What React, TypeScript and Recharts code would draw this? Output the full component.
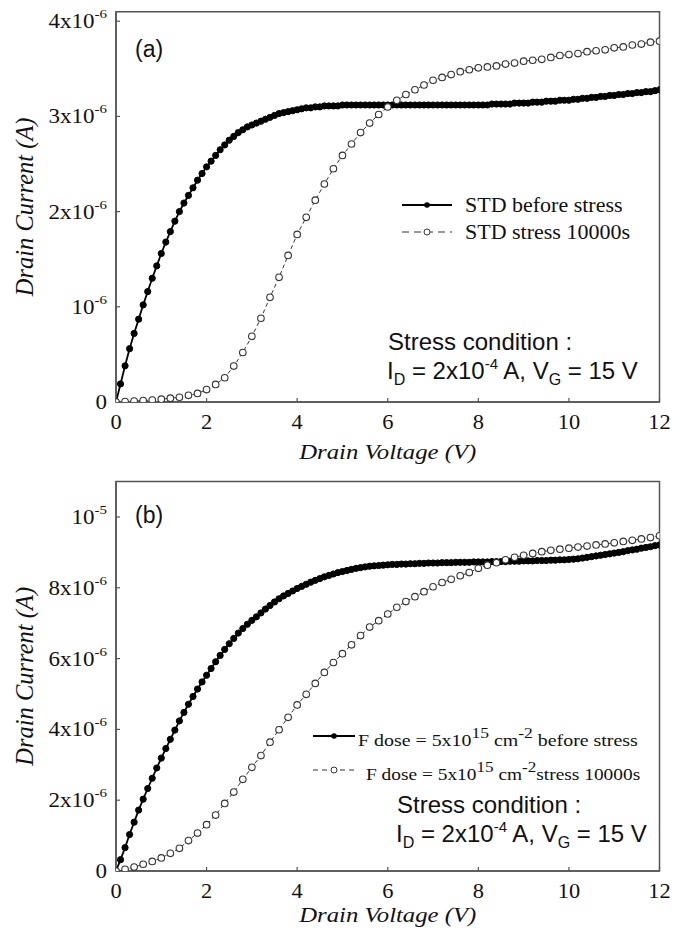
import React from 'react';
import { LineChart, Line, XAxis, YAxis, ReferenceArea, Legend } from 'recharts';

const SERIF = '"Liberation Serif", "Times New Roman", serif';
const SANS = '"Liberation Sans", Arial, sans-serif';

// drain voltage sweep (V): fine sweep for the unstressed curves, coarse for the stressed ones
const voltTicks = [0, 2, 4, 6, 8, 10, 12];
const fineStep = 0.1;
const coarseStep = 0.2;

// (a) STD device, drain current in units of 1e-6 A, 0..12 V step 0.1
const stdBefore = [
  0, 0.19, 0.38, 0.56, 0.72, 0.87, 1.02, 1.16, 1.3, 1.43, 1.56,
  1.68, 1.79, 1.9, 2.0, 2.09, 2.17, 2.25, 2.33, 2.4, 2.47,
  2.53, 2.59, 2.65, 2.7, 2.75, 2.79, 2.83, 2.86, 2.89, 2.91,
  2.93, 2.95, 2.97, 2.99, 3.01, 3.03, 3.04, 3.05, 3.06, 3.07,
  3.08, 3.09, 3.09, 3.1, 3.1, 3.11, 3.11, 3.11, 3.11, 3.12,
  3.12, 3.12, 3.12, 3.12, 3.12, 3.12, 3.12, 3.12, 3.12, 3.12,
  3.12, 3.12, 3.12, 3.12, 3.12, 3.12, 3.12, 3.12, 3.12, 3.12,
  3.12, 3.12, 3.12, 3.12, 3.12, 3.12, 3.12, 3.12, 3.12, 3.12,
  3.12, 3.12, 3.13, 3.13, 3.13, 3.13, 3.13, 3.14, 3.14, 3.14,
  3.14, 3.15, 3.15, 3.15, 3.16, 3.16, 3.16, 3.17, 3.17, 3.17,
  3.18, 3.18, 3.19, 3.19, 3.2, 3.2, 3.21, 3.21, 3.22, 3.22,
  3.23, 3.23, 3.24, 3.24, 3.25, 3.25, 3.26, 3.26, 3.27, 3.28,
];
// (a) STD after 10000 s stress, step 0.2 V
const stdStress = [
  0, 0.005, 0.01, 0.015, 0.02, 0.03, 0.04, 0.05, 0.07, 0.09, 0.13,
  0.185, 0.255, 0.377, 0.52, 0.69, 0.88, 1.1, 1.31, 1.54, 1.76,
  1.94, 2.12, 2.29, 2.45, 2.59, 2.71, 2.83, 2.93, 3.02, 3.1,
  3.17, 3.23, 3.28, 3.33, 3.38, 3.41, 3.44, 3.47, 3.49, 3.51,
  3.52, 3.53, 3.55, 3.56, 3.58, 3.59, 3.6, 3.62, 3.64, 3.65,
  3.66, 3.68, 3.69, 3.7, 3.72, 3.73, 3.75, 3.76, 3.78, 3.79,
];

// (b) F dose 5e15 cm^-2, units of 1e-6 A, step 0.1 V
const fBefore = [
  0, 0.32, 0.66, 1.03, 1.38, 1.72, 2.03, 2.33, 2.62, 2.91, 3.19,
  3.46, 3.72, 3.98, 4.24, 4.48, 4.71, 4.93, 5.14, 5.34, 5.53,
  5.72, 5.91, 6.09, 6.26, 6.42, 6.57, 6.72, 6.85, 6.97, 7.08,
  7.18, 7.29, 7.4, 7.5, 7.6, 7.69, 7.77, 7.84, 7.91, 7.98,
  8.04, 8.1, 8.16, 8.21, 8.26, 8.31, 8.35, 8.39, 8.43, 8.46,
  8.49, 8.52, 8.55, 8.57, 8.59, 8.61, 8.62, 8.63, 8.64, 8.65,
  8.66, 8.66, 8.67, 8.67, 8.68, 8.68, 8.69, 8.69, 8.7, 8.7,
  8.7, 8.71, 8.71, 8.71, 8.72, 8.72, 8.72, 8.72, 8.73, 8.73,
  8.73, 8.73, 8.74, 8.74, 8.74, 8.74, 8.75, 8.75, 8.75, 8.76,
  8.76, 8.76, 8.77, 8.77, 8.77, 8.78, 8.78, 8.79, 8.79, 8.8,
  8.81, 8.82, 8.84, 8.86, 8.88, 8.9, 8.92, 8.94, 8.96, 8.98,
  9.0, 9.02, 9.05, 9.07, 9.09, 9.12, 9.14, 9.16, 9.19, 9.21,
];
// (b) after 10000 s stress, step 0.2 V
const fStress = [
  0, 0.05, 0.11, 0.19, 0.27, 0.37, 0.5, 0.64, 0.86, 1.07, 1.31,
  1.58, 1.91, 2.23, 2.59, 2.93, 3.26, 3.64, 3.99, 4.34, 4.69,
  4.99, 5.3, 5.61, 5.89, 6.14, 6.39, 6.65, 6.89, 7.07, 7.26,
  7.45, 7.61, 7.75, 7.89, 8.03, 8.15, 8.24, 8.34, 8.43, 8.55,
  8.64, 8.71, 8.79, 8.86, 8.92, 8.97, 9.02, 9.06, 9.09, 9.12,
  9.15, 9.18, 9.21, 9.24, 9.27, 9.31, 9.34, 9.38, 9.42, 9.47,
];

const ticksA = [0, 1, 2, 3, 4];
const tickLabelsA = [['0', ''], ['10', '-6'], ['2x10', '-6'], ['3x10', '-6'], ['4x10', '-6']];
const ticksB = [0, 2, 4, 6, 8, 10];
const tickLabelsB = [['0', ''], ['2x10', '-6'], ['4x10', '-6'], ['6x10', '-6'], ['8x10', '-6'], ['10', '-5']];

const toRows = (vals: number[], step: number) =>
  vals.map((i, k) => ({ v: Math.round(k * step * 10) / 10, i }));

const FRAME = '#555';

function PanelA_Legend() {
  return (
    <svg width={290} height={60} style={{ overflow: 'visible' }}>
      <line x1={2} y1={15} x2={52} y2={15} stroke="#000" strokeWidth={2} />
      <circle cx={27} cy={15} r={2.8} fill="#000" />
      <line x1={2} y1={42} x2={52} y2={42} stroke="#333" strokeWidth={1} strokeDasharray="7 5" />
      <circle cx={27} cy={42} r={3} fill="#fff" stroke="#333" />
      <g fontFamily={SERIF} fontSize={20} fill="#111">
        <text transform="translate(65,22) scale(1.1,1)">STD before stress</text>
        <text transform="translate(65,49) scale(1.1,1)">STD stress 10000s</text>
      </g>
    </svg>
  );
}

function PanelB_Legend() {
  return (
    <svg width={340} height={60} style={{ overflow: 'visible' }}>
      <line x1={3} y1={15} x2={45} y2={15} stroke="#000" strokeWidth={2} />
      <circle cx={24} cy={15} r={2.8} fill="#000" />
      <line x1={3} y1={49} x2={45} y2={49} stroke="#333" strokeWidth={1} strokeDasharray="5 4" />
      <circle cx={24} cy={49} r={3} fill="#fff" stroke="#333" />
      <g fontFamily={SERIF} fontSize={17} fill="#111">
        <text transform="translate(48,25) scale(1.17,1)">
          <tspan>F dose = 5x10</tspan>
          <tspan dy={-8} fontSize={15}>15</tspan>
          <tspan dy={8}> cm</tspan>
          <tspan dy={-8} fontSize={15}>-2</tspan>
          <tspan dy={8}> before stress</tspan>
        </text>
        <text transform="translate(56,59) scale(1.14,1)">
          <tspan>F dose = 5x10</tspan>
          <tspan dy={-8} fontSize={15}>15</tspan>
          <tspan dy={8}> cm</tspan>
          <tspan dy={-8} fontSize={15}>-2</tspan>
          <tspan dy={8}>stress 10000s</tspan>
        </text>
      </g>
    </svg>
  );
}

function StressNote({ x, y }: { x: number; y: number }) {
  return (
    <g fontFamily={SANS} fontSize={24} fill="#111">
      <text x={x} y={y}>Stress condition :</text>
      <text x={x - 1} y={y + 29}>
        <tspan>I</tspan>
        <tspan dy={6} fontSize={16}>D</tspan>
        <tspan dy={-6}> = 2x10</tspan>
        <tspan dy={-10} fontSize={15}>-4</tspan>
        <tspan dy={10}> A, V</tspan>
        <tspan dy={6} fontSize={16}>G</tspan>
        <tspan dy={-6}> = 15 V</tspan>
      </text>
    </g>
  );
}

interface PanelProps {
  before: number[];
  stress: number[];
  yMax: number;
  yTicks: number[];
  yLabels: string[][];
  tag: string;
  plotTop: number;
  bottomSpace: number;
  titleGap: number;
  legend: React.ReactNode;
  legendPos: { left: number; top: number };
  notePos: { x: number; y: number };
}

function Panel(p: PanelProps) {
  const W = 686;
  const H = 466;
  const yTick = (t: any) => {
    const lab = p.yLabels[p.yTicks.indexOf(t.payload.value)] || ['', ''];
    return (
      <g transform={`translate(${t.x},${t.y}) scale(1.15,1)`}>
        <text x={0} y={7} textAnchor="end" fontFamily={SERIF} fontSize={20} fill="#111">
          <tspan>{lab[0]}</tspan>
          {lab[1] ? <tspan dy={-10} fontSize={13}>{lab[1]}</tspan> : null}
        </text>
      </g>
    );
  };
  const xTick = (t: any) => (
    <g transform={`translate(${t.x},${t.y}) scale(1.12,1)`}>
      <text x={0} y={13.5} textAnchor="middle" fontFamily={SERIF} fontSize={20} fill="#111">
        {t.payload.value}
      </text>
    </g>
  );
  const xTitle = (l: any) => {
    const vb = l.viewBox;
    return (
      <g transform={`translate(${vb.x + vb.width / 2},${vb.y + p.titleGap}) scale(1.15,1)`}>
        <text textAnchor="middle" fontFamily={SERIF} fontStyle="italic" fontSize={21.5} fill="#111">
          Drain Voltage (V)
        </text>
      </g>
    );
  };
  const yTitle = (l: any) => {
    const vb = l.viewBox;
    return (
      <text
        transform={`translate(${vb.x + 33},${vb.y + vb.height / 2}) rotate(-90)`}
        textAnchor="middle"
        fontFamily={SERIF}
        fontStyle="italic"
        fontSize={24.5}
        fill="#111"
      >
        Drain Current (A)
      </text>
    );
  };

  return (
    <div style={{ position: 'relative', width: W, height: H }}>
      <LineChart
        width={W}
        height={H}
        margin={{ top: p.plotTop, right: 26.5, bottom: 0, left: 0 }}
      >
        <XAxis
          dataKey="v"
          type="number"
          domain={[0, 12]}
          ticks={voltTicks}
          allowDataOverflow
          height={p.bottomSpace}
          tickSize={-4}
          tickMargin={17}
          axisLine={{ stroke: FRAME, strokeWidth: 1.5 }}
          tickLine={{ stroke: FRAME, strokeWidth: 1.2 }}
          tick={xTick}
          label={xTitle}
        />
        <YAxis
          type="number"
          domain={[0, p.yMax]}
          ticks={p.yTicks}
          allowDataOverflow
          width={116}
          tickSize={-4}
          tickMargin={13}
          axisLine={{ stroke: FRAME, strokeWidth: 1.5 }}
          tickLine={{ stroke: FRAME, strokeWidth: 1.2 }}
          tick={yTick}
          label={yTitle}
        />
        <ReferenceArea
          x1={0}
          x2={12}
          y1={0}
          y2={p.yMax}
          fill="none"
          stroke={FRAME}
          strokeWidth={1.5}
          ifOverflow="visible"
        />
        <Line
          data={toRows(p.before, fineStep)}
          dataKey="i"
          type="linear"
          stroke="#000"
          strokeWidth={1.8}
          dot={{ r: 3.1, fill: '#000', stroke: '#000', strokeWidth: 1 }}
          isAnimationActive={false}
        />
        <Line
          data={toRows(p.stress, coarseStep)}
          dataKey="i"
          type="linear"
          stroke="#333"
          strokeWidth={1}
          strokeDasharray="4 3"
          dot={{ r: 3.3, fill: '#fff', stroke: '#333', strokeWidth: 1.1, strokeDasharray: '0' }}
          isAnimationActive={false}
        />
        <Legend
          layout="vertical"
          align="center"
          verticalAlign="middle"
          wrapperStyle={{ position: 'absolute', left: p.legendPos.left, top: p.legendPos.top, width: 'auto' }}
          content={() => p.legend}
        />
      </LineChart>
      <svg
        width={W}
        height={H}
        style={{ position: 'absolute', left: 0, top: 0, pointerEvents: 'none' }}
      >
        <text x={135} y={57} fontFamily={SANS} fontSize={23} fill="#111">{p.tag}</text>
        <StressNote x={p.notePos.x} y={p.notePos.y} />
      </svg>
    </div>
  );
}

export default function App() {
  return (
    <div style={{ position: 'absolute', left: 0, top: 0, width: 686, height: 932, background: '#fff' }}>
      <Panel
        before={stdBefore}
        stress={stdStress}
        yMax={4.1}
        yTicks={ticksA}
        yLabels={tickLabelsA}
        tag="(a)"
        plotTop={11.7}
        bottomSpace={64}
        titleGap={57}
        legend={<PanelA_Legend />}
        legendPos={{ left: 400, top: 190 }}
        notePos={{ x: 388, y: 350 }}
      />
      <Panel
        before={fBefore}
        stress={fStress}
        yMax={11}
        yTicks={ticksB}
        yLabels={tickLabelsB}
        tag="(b)"
        plotTop={15.6}
        bottomSpace={61}
        titleGap={51}
        legend={<PanelB_Legend />}
        legendPos={{ left: 310, top: 255 }}
        notePos={{ x: 397, y: 347 }}
      />
    </div>
  );
}
